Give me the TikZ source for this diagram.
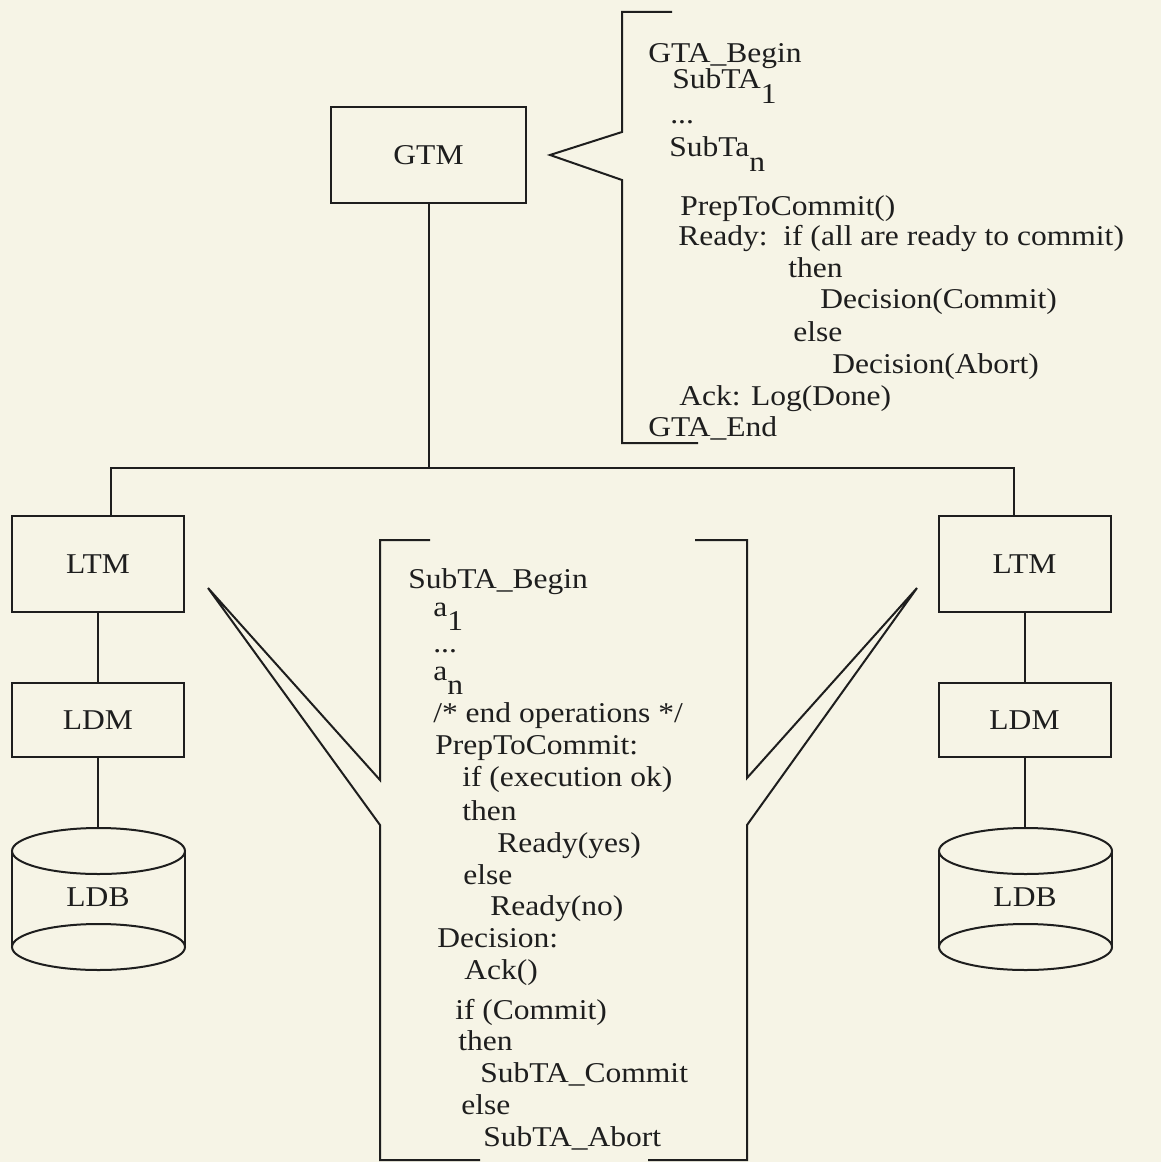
\documentclass[tikz,border=0pt]{standalone}
\usepackage{fontspec}
\setmainfont{Liberation Serif}[FakeStretch=1.1]

\definecolor{paper}{RGB}{246,244,230}
\definecolor{ink}{RGB}{30,30,30}

% lowered index, as printed
\newcommand{\lowr}[1]{\raisebox{-0.5em}{#1}}
\newcommand{\skipped}{...}

\tikzset{
  box/.style={draw=ink, line width=1.5pt, inner sep=0pt, text=ink,
    minimum width=129pt, minimum height=72pt},
  code/.style={anchor=base west, inner sep=0pt, text=ink},
  wire/.style={draw=ink, line width=1.5pt},
  every node/.style={font=\fontsize{21.5}{26}\selectfont}
}

\begin{document}
\begin{tikzpicture}[x=0.75pt,y=-0.75pt]
        \fill[paper] (0,0) rectangle (1161,1162);
        \useasboundingbox (0,0) rectangle (1161,1162);

        % managers
        \node at (428.5,155) [box, minimum width=146.25pt] (gtm) {GTM};
        \node at (98,564) [box] (ltmL) {LTM};
        \node at (98,720) [box, minimum height=55.5pt] (ldmL) {LDM};
        \node at (1024.5,564) [box] (ltmR) {LTM};
        \node at (1024.5,720) [box, minimum height=55.5pt] (ldmR) {LDM};
        \node at (98,897) [inner sep=0pt, text=ink] (ldbL) {LDB};
        \node at (1025,897) [inner sep=0pt, text=ink] (ldbR) {LDB};

        % databases
        \foreach \cx in {98.5,1025.5} {
            \draw[wire] (\cx,851) ellipse [x radius=86.5, y radius=23];
            \draw[wire] (\cx,947) ellipse [x radius=86.5, y radius=23];
            \draw[wire] (\cx-86.5,851) -- (\cx-86.5,947);
            \draw[wire] (\cx+86.5,851) -- (\cx+86.5,947);
        }
        \coordinate (ldbLtop) at (98,828);
        \coordinate (ldbRtop) at (1024.5,828);

        % connections
        \coordinate (busL) at (111,468);
        \coordinate (busR) at (1014,468);
        \draw[wire] (gtm.south) -- (gtm.south |- busL);
        \draw[wire] (ltmL.north -| busL) -- (busL) -- (busR) -- (ltmR.north -| busR);
        \draw[wire] (ltmL) -- (ldmL);
        \draw[wire] (ldmL) -- (ldbLtop);
        \draw[wire] (ltmR) -- (ldmR);
        \draw[wire] (ldmR) -- (ldbRtop);

        % callout of the global transaction
        \draw[wire] (672,12) -- (622,12) -- (622,132) -- (550,155) -- (622,180)
            -- (622,443) -- (698,443);
        \foreach \i/\x/\y/\t in {1/648/63/GTA\_Begin, 2/672/89/SubTA\lowr{1},
            3/670/124/\skipped, 4/669/157/SubTa\lowr{n}, 5/680/216/PrepToCommit(),
            6/678/246/Ready:\ \ if (all are ready to commit), 7/788/277/then,
            8/820/309/Decision(Commit), 9/793/341/else, 10/832/373/Decision(Abort),
            11/679/405/Ack: Log(Done), 12/648/436/GTA\_End}
            \node[code] (gta\i) at (\x,\y) {\t};

        % callout of the subtransaction
        \draw[wire] (430,540) -- (380,540) -- (380,780) -- (208,588) -- (380,825)
            -- (380,1160) -- (480,1160);
        \draw[wire] (695,540) -- (747,540) -- (747,778) -- (917,588) -- (747,825)
            -- (747,1160) -- (648,1160);
        \foreach \i/\x/\y/\t in {1/408/588/SubTA\_Begin, 2/433/616/a\lowr{1},
            3/433/652/\skipped, 4/433/680/a\lowr{n}, 5/433/722/{/* end operations */},
            6/435/754/PrepToCommit:, 7/462/786/if (execution ok), 8/462/820/then,
            9/497/852/Ready(yes), 10/463/884/else, 11/490/915/Ready(no),
            12/437/947/Decision:, 13/464/979/Ack(), 14/455/1019/if (Commit),
            15/458/1050/then, 16/480/1082/SubTA\_Commit, 17/461/1114/else,
            18/483/1146/SubTA\_Abort}
            \node[code] (sub\i) at (\x,\y) {\t};
\end{tikzpicture}
\end{document}
